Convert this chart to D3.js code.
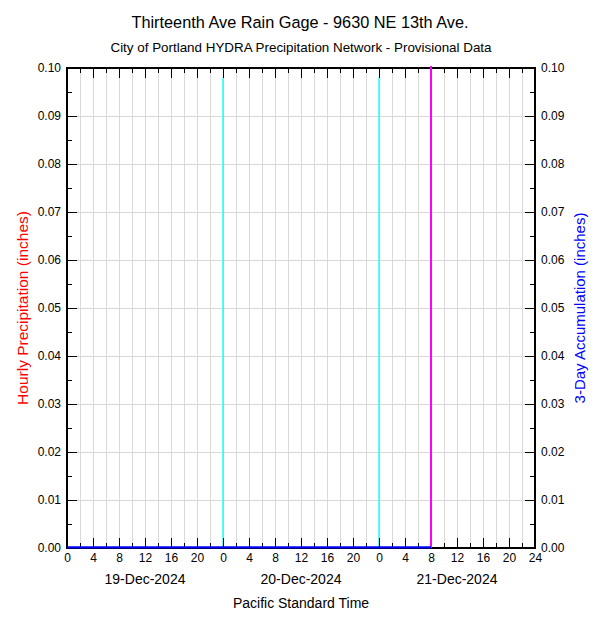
<!DOCTYPE html>
<html>
<head>
<meta charset="utf-8">
<script src="https://cdn.jsdelivr.net/npm/d3@7"></script>
<style>
  html, body { margin: 0; padding: 0; background: #fff; }
  svg { display: block; font-family: "Liberation Sans", Arial, Helvetica, sans-serif; }
</style>
</head>
<body>
<div id="chart"></div>
<script>
// ---------- data ----------
const titleText = "Thirteenth Ave Rain Gage - 9630 NE 13th Ave.";
const subtitleText = "City of Portland HYDRA Precipitation Network - Provisional Data";
const dayLabels = ["19-Dec-2024", "20-Dec-2024", "21-Dec-2024"];
const hourTickLabels = [0, 4, 8, 12, 16, 20, 0, 4, 8, 12, 16, 20, 0, 4, 8, 12, 16, 20, 24];
const yTickLabels = ["0.00","0.01","0.02","0.03","0.04","0.05","0.06","0.07","0.08","0.09","0.10"];
// hours since start (0 = 19-Dec 00:00) up to current time 21-Dec 08:00
const hours = [0,1,2,3,4,5,6,7,8,9,10,11,12,13,14,15,16,17,18,19,20,21,22,23,24,25,26,27,28,29,30,31,32,33,34,35,36,37,38,39,40,41,42,43,44,45,46,47,48,49,50,51,52,53,54,55,56];
const hourlyPrecip = [0,0,0,0,0,0,0,0,0,0,0,0,0,0,0,0,0,0,0,0,0,0,0,0,0,0,0,0,0,0,0,0,0,0,0,0,0,0,0,0,0,0,0,0,0,0,0,0,0,0,0,0,0,0,0,0,0];
const accumulation = [0,0,0,0,0,0,0,0,0,0,0,0,0,0,0,0,0,0,0,0,0,0,0,0,0,0,0,0,0,0,0,0,0,0,0,0,0,0,0,0,0,0,0,0,0,0,0,0,0,0,0,0,0,0,0,0,0];
const dayBoundaries = [24, 48];
const dayBoundaryTop = 0.098;
const currentHour = 56;

// ---------- layout ----------
const W = 600, H = 625;
const m = {left: 67, right: 65, top: 68, bottom: 77};
const pw = W - m.left - m.right, ph = H - m.top - m.bottom;

const svg = d3.select("#chart").append("svg").attr("width", W).attr("height", H);

const x = d3.scaleLinear().domain([0, 72]).range([m.left, m.left + pw]);
const y = d3.scaleLinear().domain([0, 0.1]).range([m.top + ph, m.top]);
const y2 = d3.scaleLinear().domain([0, 0.1]).range([m.top + ph, m.top]);

// grid
const g = svg.append("g").attr("shape-rendering", "crispEdges");
g.selectAll(".vg").data(d3.range(2, 72, 2)).join("line")
  .attr("x1", d => x(d)).attr("x2", d => x(d))
  .attr("y1", m.top).attr("y2", m.top + ph)
  .attr("stroke", "#d9d9d9").attr("stroke-width", 1);
g.selectAll(".hg").data(d3.range(1, 10).map(i => i / 100)).join("line")
  .attr("x1", m.left).attr("x2", m.left + pw)
  .attr("y1", d => y(d)).attr("y2", d => y(d))
  .attr("stroke", "#d9d9d9").attr("stroke-width", 1);

// precipitation bars (all zero)
svg.append("g").selectAll("rect").data(hours.map((h, i) => [h, hourlyPrecip[i]]).filter(d => d[1] > 0)).join("rect")
  .attr("x", d => x(d[0])).attr("width", x(1) - x(0))
  .attr("y", d => y(d[1])).attr("height", d => y(0) - y(d[1]))
  .attr("fill", "red");

// day boundary lines
svg.append("g").selectAll("line").data(dayBoundaries).join("line")
  .attr("x1", d => x(d)).attr("x2", d => x(d))
  .attr("y1", y(dayBoundaryTop)).attr("y2", y(0))
  .attr("stroke", "#00ffff").attr("stroke-width", 1.3);

// frame
svg.append("rect").attr("x", m.left).attr("y", m.top).attr("width", pw).attr("height", ph)
  .attr("fill", "none").attr("stroke", "#000").attr("stroke-width", 1.2)
  .attr("shape-rendering", "crispEdges");

// axes
const fs = "12px";
function styleAxis(sel) {
  sel.select(".domain").remove();
  sel.selectAll("line").attr("stroke", "#000").attr("shape-rendering", "crispEdges");
  sel.selectAll("text").attr("font-size", fs).attr("fill", "#000")
    .attr("font-family", "'Liberation Sans', Arial, sans-serif");
}
// bottom major
const xMajor = svg.append("g").attr("transform", `translate(0,${m.top + ph})`)
  .call(d3.axisTop(x).tickValues(d3.range(0, 73, 4)).tickSize(10).tickFormat(""));
styleAxis(xMajor);
const xMinor = svg.append("g").attr("transform", `translate(0,${m.top + ph})`)
  .call(d3.axisTop(x).tickValues(d3.range(2, 72, 4)).tickSize(5).tickFormat(""));
styleAxis(xMinor);
// bottom labels
const xLab = svg.append("g").attr("transform", `translate(0,${m.top + ph})`)
  .call(d3.axisBottom(x).tickValues(d3.range(0, 73, 4)).tickSize(0).tickPadding(5)
    .tickFormat((d, i) => hourTickLabels[i]));
styleAxis(xLab);
// top
const xTopMaj = svg.append("g").attr("transform", `translate(0,${m.top})`)
  .call(d3.axisBottom(x).tickValues(d3.range(0, 73, 4)).tickSize(10).tickFormat(""));
styleAxis(xTopMaj);
const xTopMin = svg.append("g").attr("transform", `translate(0,${m.top})`)
  .call(d3.axisBottom(x).tickValues(d3.range(2, 72, 4)).tickSize(5).tickFormat(""));
styleAxis(xTopMin);

// left
const yMaj = svg.append("g").attr("transform", `translate(${m.left},0)`)
  .call(d3.axisRight(y).tickValues(d3.range(0, 11).map(i => i / 100)).tickSize(10).tickFormat(""));
styleAxis(yMaj);
const yMin = svg.append("g").attr("transform", `translate(${m.left},0)`)
  .call(d3.axisRight(y).tickValues(d3.range(0, 10).map(i => i / 100 + 0.005)).tickSize(5).tickFormat(""));
styleAxis(yMin);
const yLab = svg.append("g").attr("transform", `translate(${m.left},0)`)
  .call(d3.axisLeft(y).tickValues(d3.range(0, 11).map(i => i / 100)).tickSize(0).tickPadding(6)
    .tickFormat((d, i) => yTickLabels[i]));
styleAxis(yLab);
// right
const y2Maj = svg.append("g").attr("transform", `translate(${m.left + pw},0)`)
  .call(d3.axisLeft(y2).tickValues(d3.range(0, 11).map(i => i / 100)).tickSize(10).tickFormat(""));
styleAxis(y2Maj);
const y2Min = svg.append("g").attr("transform", `translate(${m.left + pw},0)`)
  .call(d3.axisLeft(y2).tickValues(d3.range(0, 10).map(i => i / 100 + 0.005)).tickSize(5).tickFormat(""));
styleAxis(y2Min);
const y2Lab = svg.append("g").attr("transform", `translate(${m.left + pw},0)`)
  .call(d3.axisRight(y2).tickValues(d3.range(0, 11).map(i => i / 100)).tickSize(0).tickPadding(6)
    .tickFormat((d, i) => yTickLabels[i]));
styleAxis(y2Lab);

// current time line
svg.append("line")
  .attr("x1", x(currentHour)).attr("x2", x(currentHour))
  .attr("y1", m.top - 2).attr("y2", y(0))
  .attr("stroke", "#ff00ff").attr("stroke-width", 2);

// accumulation line (drawn on top of the frame)
svg.append("path")
  .datum(hours.map((h, i) => [h, accumulation[i]]))
  .attr("fill", "none").attr("stroke", "#0000ff").attr("stroke-width", 2.2)
  .attr("d", d3.line().x(d => x(d[0])).y(d => y2(d[1]) - 0.6));

// day labels
svg.append("g").selectAll("text").data(dayLabels).join("text")
  .attr("x", (d, i) => x(i * 24 + 12)).attr("y", 584)
  .attr("text-anchor", "middle").attr("font-size", "14px").text(d => d);

// axis titles
svg.append("text").attr("x", x(36)).attr("y", 608).attr("text-anchor", "middle")
  .attr("font-size", "14px").text("Pacific Standard Time");
svg.append("text").attr("transform", `translate(28,${y(0.05)}) rotate(-90)`)
  .attr("text-anchor", "middle").attr("font-size", "15.5px").attr("fill", "#ff0000")
  .text("Hourly Precipitation (inches)");
svg.append("text").attr("transform", `translate(585,${y(0.05)}) rotate(-90)`)
  .attr("text-anchor", "middle").attr("font-size", "15px").attr("fill", "#0000ff")
  .text("3-Day Accumulation (inches)");

// titles
svg.append("text").attr("x", 300).attr("y", 28).attr("text-anchor", "middle")
  .attr("font-size", "16.3px").text(titleText);
svg.append("text").attr("x", 301).attr("y", 52).attr("text-anchor", "middle")
  .attr("font-size", "13.4px").text(subtitleText);
</script>
</body>
</html>
